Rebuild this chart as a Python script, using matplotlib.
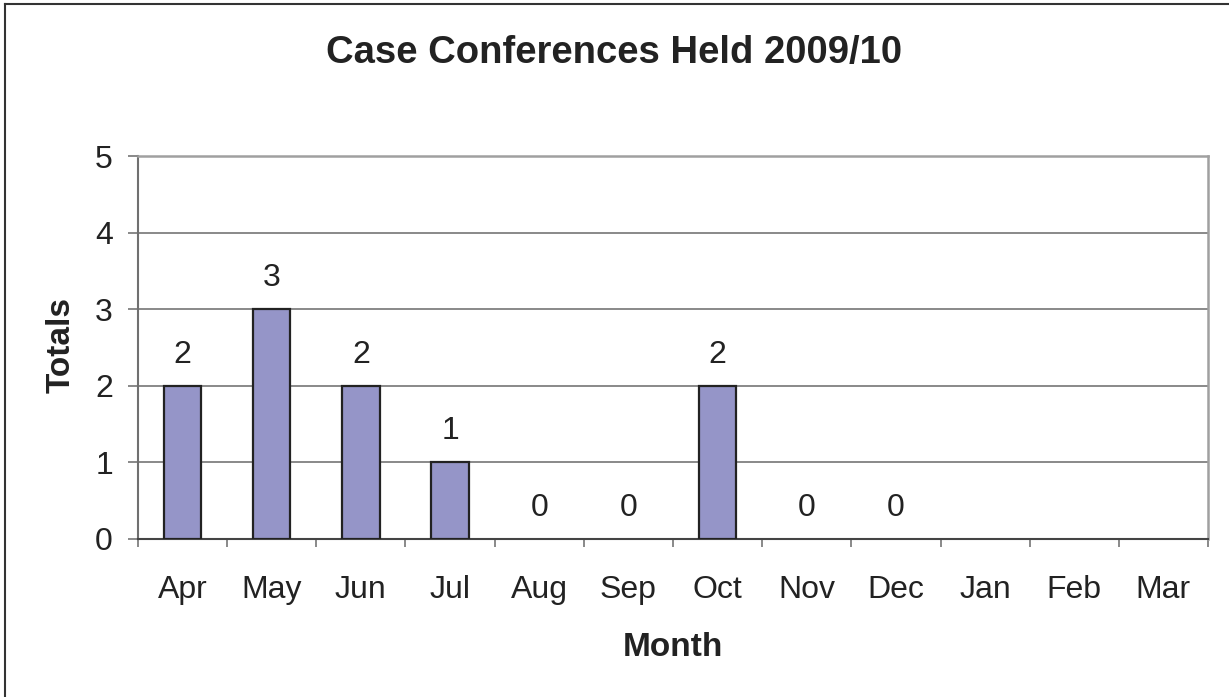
import matplotlib.pyplot as plt
import numpy as np
from matplotlib.lines import Line2D

plt.rcParams['font.family'] = ['Liberation Sans', 'DejaVu Sans']

months = ["Apr", "May", "Jun", "Jul", "Aug", "Sep",
          "Oct", "Nov", "Dec", "Jan", "Feb", "Mar"]
# Jan-Mar have no data yet (no label drawn)
totals = [2, 3, 2, 1, 0, 0, 2, 0, 0, None, None, None]
title = "Case Conferences Held 2009/10"

W, H = 1229, 697
fig = plt.figure(figsize=(W / 100, H / 100), dpi=100)
ax = fig.add_axes([138 / W, 1 - 539 / H, (1208 - 138) / W, (539 - 156) / H])

x = np.arange(len(months))
vals = np.array([np.nan if v is None else v for v in totals], dtype=float)
# zero bars draw nothing in the original
heights = np.where(vals > 0, vals, np.nan)
ax.bar(x, heights, 0.42, color="#9595C8", edgecolor="#222222",
       linewidth=1.6, zorder=3)

for xi, v in zip(x, totals):
    if v is None:
        continue
    ax.annotate(str(v), (xi, v), xytext=(0, 16.5), textcoords="offset points",
                ha="center", va="baseline", fontsize=23, color="#222222")

ax.set_xlim(-0.5, len(months) - 0.5)
ax.set_ylim(0, 5)
ax.set_yticks(range(6))
ax.yaxis.grid(True, color="#808080", linewidth=1.3, zorder=0)

ax.set_xticks(x)
ax.set_xticklabels(months)
ax.set_xticks(np.arange(-0.5, len(months)), minor=True)
ax.tick_params(axis="x", which="major", length=0, pad=26, labelsize=23,
               labelcolor="#222222")
ax.tick_params(axis="x", which="minor", length=6, width=1.3,
               color="#808080", direction="out")
ax.tick_params(axis="y", length=7, width=1.3, color="#808080",
               pad=11, labelsize=23, labelcolor="#222222")

for side in ["top", "right"]:
    ax.spines[side].set_color("#A0A0A0")
    ax.spines[side].set_linewidth(1.8)
ax.spines["left"].set_color("#707070")
ax.spines["left"].set_linewidth(1.5)
ax.spines["bottom"].set_color("#444444")
ax.spines["bottom"].set_linewidth(1.5)

fig.text(0.5, 1 - 53 / H, title, ha="center", va="center",
         fontsize=27.5, fontweight="bold", color="#222222")
fig.text((138 + 1208) / 2 / W, 1 - 647 / H, "Month", ha="center",
         va="center", fontsize=24, fontweight="bold", color="#222222")
fig.text(61 / W, 1 - 345 / H, "Totals", ha="center", va="center",
         rotation=90, fontsize=24, fontweight="bold", color="#222222")

# outer chart frame (only left and top edges visible)
fig.add_artist(Line2D([5 / W, 5 / W], [0, 1 - 4 / H], color="#333333",
                      linewidth=1.5, transform=fig.transFigure))
fig.add_artist(Line2D([5 / W, 1], [1 - 4 / H, 1 - 4 / H], color="#333333",
                      linewidth=1.5, transform=fig.transFigure))

fig.savefig("out.png", dpi=100)
